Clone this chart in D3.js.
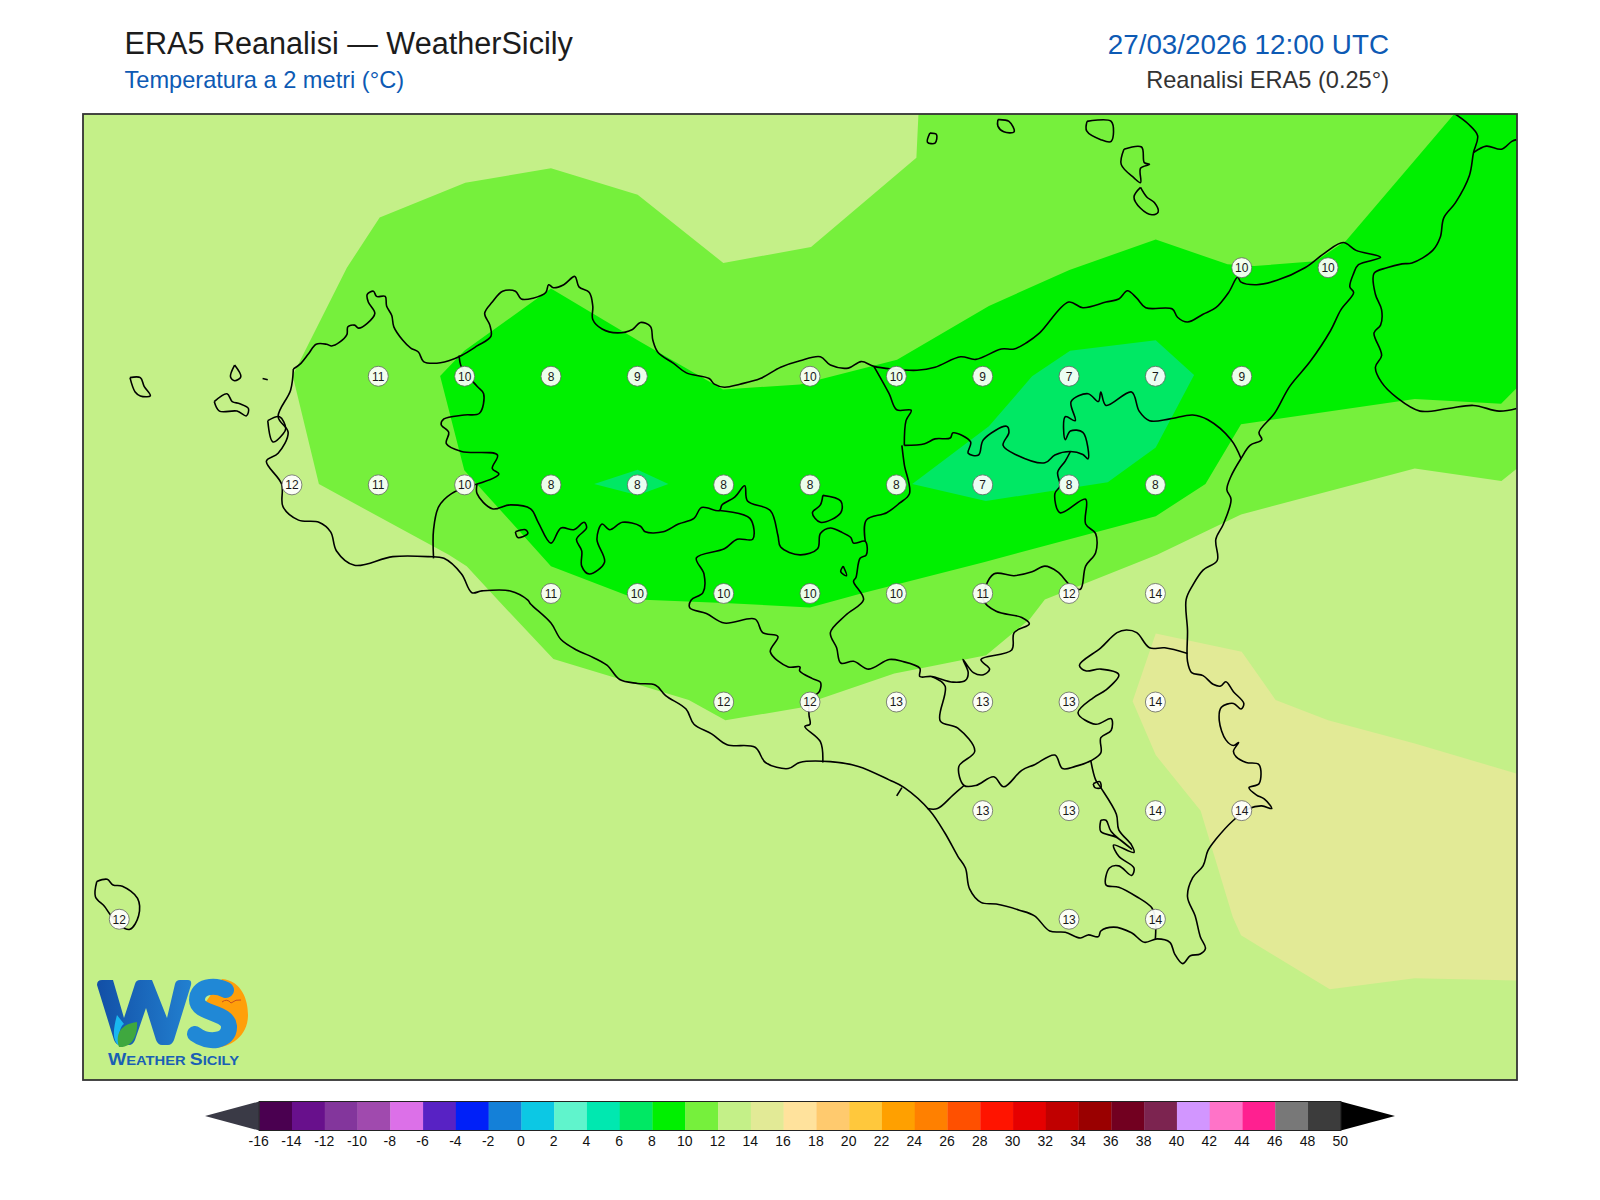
<!DOCTYPE html>
<html><head><meta charset="utf-8">
<style>html,body{margin:0;padding:0;background:#fff}svg{display:block}text{font-family:"Liberation Sans",Arial,sans-serif}</style>
<script src="https://cdn.jsdelivr.net/npm/d3@7"></script></head><body>
<script>
// ---- DATA (degrees east / north, °C) ----
const lonDomain=[11.895,16.047], latDomain=[36.378,38.602];
const stationLon=[15.25,15.5, 12.75,13,13.25,13.5,14,14.25,14.5,14.75,15,15.25, 12.5,12.75,13,13.25,13.5,13.75,14,14.25,14.5,14.75,15, 13.25,13.5,13.75,14,14.25,14.5,14.75,15, 13.75,14,14.25,14.5,14.75,15, 14.5,14.75,15,15.25, 12,14.75,15];
const stationLat=[38.25,38.25, 38,38,38,38,38,38,38,38,38,38, 37.75,37.75,37.75,37.75,37.75,37.75,37.75,37.75,37.75,37.75,37.75, 37.5,37.5,37.5,37.5,37.5,37.5,37.5,37.5, 37.25,37.25,37.25,37.25,37.25,37.25, 37,37,37,37, 36.75,36.75,36.75];
const stationVal=[10,10, 11,10,8,9,10,10,9,7,7,9, 12,11,10,8,8,8,8,8,7,8,8, 11,10,10,10,10,11,12,14, 12,12,13,13,13,14, 13,13,14,14, 12,13,14];

const ticks=d3.range(-16,51,2);
const barColors=["#4a0050","#68108c","#83369c","#a04aae","#dc70e8","#5822c4","#0020f8","#1480d8","#0cc8e4","#60f4cc","#00e8b0","#00e864","#00f000","#76f03c","#c4f088","#e2ea96","#ffe29c","#ffca6e","#ffc83c","#ffa000","#ff8000","#ff5000","#ff1400","#e60000","#c00000","#9a0000","#720020","#7c2450","#d296ff","#ff73c8","#ff2090","#787878","#3c3c3c"];

const band10=[[14.314,38.602],[16.047,38.602],[16.047,37.786],[16.002,37.757],[15.751,37.786],[15.248,37.680],[15.005,37.587],[14.680,37.484],[14.636,37.439],[14.510,37.356],[14.340,37.329],[14.244,37.314],[14.030,37.256],[13.971,37.235],[13.755,37.206],[13.649,37.253],[13.257,37.347],[13.095,37.484],[13.006,37.561],[12.954,37.587],[12.578,37.750],[12.502,38.000],[12.659,38.248],[12.754,38.364],[13.002,38.444],[13.250,38.477],[13.501,38.416],[13.749,38.259],[14.003,38.296],[14.308,38.501]];
const band8=[[15.865,38.602],[16.047,38.602],[16.047,37.972],[16.001,37.935],[15.751,37.946],[15.248,37.888],[15.145,37.750],[15.001,37.676],[14.503,37.570],[14.148,37.498],[14.000,37.466],[13.751,37.476],[13.501,37.484],[13.250,37.561],[12.999,37.782],[12.929,37.999],[12.999,38.057],[13.250,38.200],[13.501,38.081],[13.748,37.968],[13.971,37.979],[14.252,38.036],[14.518,38.160],[14.751,38.243],[15.001,38.313],[15.209,38.256],[15.286,38.252],[15.463,38.263],[15.552,38.310],[15.759,38.503]];
const band6a=[[14.296,37.750],[14.509,37.711],[14.862,37.754],[15.001,37.834],[15.112,38.001],[15.001,38.081],[14.753,38.057],[14.643,37.998],[14.518,37.883]];
const band6b=[[13.375,37.750],[13.501,37.783],[13.590,37.750],[13.501,37.724]];
const band14=[[15.001,37.406],[15.250,37.364],[15.348,37.253],[15.500,37.206],[15.751,37.153],[16.047,37.083],[16.047,36.607],[15.751,36.612],[15.505,36.587],[15.248,36.711],[15.224,36.753],[15.131,36.998],[15.001,37.126],[14.934,37.250]];

const coastSicily=[[12.504,38.015],[12.526,38.028],[12.548,38.050],[12.570,38.072],[12.600,38.072],[12.615,38.068],[12.637,38.076],[12.659,38.094],[12.662,38.112],[12.681,38.116],[12.693,38.109],[12.718,38.120],[12.740,38.143],[12.721,38.169],[12.718,38.187],[12.736,38.194],[12.745,38.182],[12.770,38.182],[12.774,38.160],[12.789,38.138],[12.795,38.112],[12.821,38.081],[12.844,38.063],[12.866,38.054],[12.881,38.032],[12.910,38.028],[12.954,38.034],[12.991,38.046],[13.036,38.068],[13.076,38.090],[13.073,38.116],[13.058,38.143],[13.080,38.169],[13.110,38.194],[13.147,38.194],[13.164,38.176],[13.198,38.178],[13.235,38.191],[13.243,38.209],[13.257,38.202],[13.287,38.209],[13.319,38.228],[13.331,38.204],[13.361,38.191],[13.371,38.160],[13.371,38.129],[13.398,38.107],[13.442,38.098],[13.486,38.106],[13.509,38.122],[13.538,38.113],[13.545,38.081],[13.560,38.053],[13.605,38.028],[13.642,38.006],[13.708,37.993],[13.723,37.980],[13.752,37.973],[13.797,37.980],[13.856,37.993],[13.915,38.019],[13.971,38.034],[14.030,38.043],[14.059,38.024],[14.111,38.017],[14.148,38.032],[14.185,38.021],[14.236,38.015],[14.310,38.012],[14.362,38.019],[14.436,38.043],[14.480,38.037],[14.554,38.061],[14.591,38.061],[14.628,38.076],[14.665,38.098],[14.749,38.169],[14.790,38.156],[14.857,38.169],[14.894,38.176],[14.919,38.195],[14.946,38.178],[14.972,38.156],[15.049,38.153],[15.064,38.134],[15.093,38.123],[15.138,38.141],[15.175,38.156],[15.212,38.191],[15.238,38.226],[15.248,38.215],[15.293,38.209],[15.352,38.219],[15.433,38.248],[15.492,38.283],[15.544,38.306],[15.581,38.288],[15.652,38.272],[15.588,38.255],[15.574,38.235],[15.563,38.204],[15.574,38.191],[15.537,38.151],[15.507,38.103],[15.448,38.032],[15.389,37.975],[15.345,37.913],[15.300,37.869],[15.308,37.852],[15.274,37.839],[15.248,37.809],[15.219,37.768],[15.207,37.737],[15.219,37.715],[15.197,37.658],[15.175,37.623],[15.179,37.574],[15.138,37.552],[15.108,37.517],[15.089,37.484],[15.093,37.413],[15.093,37.342],[15.105,37.316],[15.138,37.309],[15.167,37.289],[15.189,37.285],[15.204,37.295],[15.226,37.272],[15.256,37.245],[15.248,37.232],[15.226,37.245],[15.191,37.236],[15.185,37.205],[15.204,37.161],[15.226,37.148],[15.241,37.155],[15.226,37.135],[15.234,37.122],[15.263,37.109],[15.300,37.104],[15.300,37.060],[15.271,37.051],[15.293,37.034],[15.315,37.025],[15.337,37.003],[15.308,37.009],[15.271,37.003],[15.226,36.976],[15.175,36.932],[15.152,36.906],[15.138,36.871],[15.108,36.844],[15.093,36.800],[15.115,36.756],[15.130,36.708],[15.145,36.681],[15.130,36.668],[15.101,36.664],[15.079,36.646],[15.056,36.668],[15.042,36.695],[15.005,36.703],[14.968,36.695],[14.931,36.717],[14.879,36.730],[14.842,36.721],[14.835,36.708],[14.805,36.712],[14.783,36.705],[14.739,36.718],[14.694,36.721],[14.650,36.756],[14.606,36.769],[14.539,36.783],[14.495,36.787],[14.462,36.818],[14.450,36.866],[14.428,36.893],[14.391,36.946],[14.347,36.998],[14.273,37.051],[14.229,37.069],[14.140,37.100],[14.059,37.111],[13.970,37.109],[13.937,37.095],[13.871,37.109],[13.841,37.144],[13.760,37.150],[13.715,37.175],[13.664,37.197],[13.641,37.232],[13.582,37.263],[13.553,37.287],[13.501,37.291],[13.449,37.300],[13.412,37.333],[13.361,37.355],[13.324,37.368],[13.279,37.392],[13.250,37.430],[13.191,37.474],[13.183,37.483],[13.132,37.504],[13.050,37.504],[13.021,37.500],[12.991,37.543],[12.940,37.579],[12.895,37.583],[12.792,37.583],[12.681,37.563],[12.629,37.596],[12.612,37.640],[12.578,37.662],[12.519,37.667],[12.474,37.698],[12.470,37.750],[12.426,37.803],[12.460,37.821],[12.489,37.869],[12.460,37.905],[12.496,37.966],[12.504,38.015]];
const stagnone=[[12.430,37.896],[12.445,37.847],[12.474,37.865],[12.482,37.878],[12.464,37.905],[12.430,37.896]];
const calabria=[[15.866,38.603],[15.906,38.579],[15.933,38.552],[15.921,38.513],[15.909,38.460],[15.869,38.398],[15.835,38.363],[15.825,38.319],[15.803,38.288],[15.743,38.259],[15.714,38.257],[15.670,38.248],[15.633,38.235],[15.637,38.187],[15.655,38.151],[15.652,38.116],[15.633,38.098],[15.655,38.046],[15.637,38.019],[15.655,37.984],[15.699,37.949],[15.766,37.918],[15.847,37.924],[15.921,37.931],[15.995,37.918],[16.046,37.924]];
const calabriaBorder=[[15.921,38.513],[15.958,38.528],[16.002,38.521],[16.032,38.539],[16.046,38.543]];
const islands=[
 [[12.031,37.995],[12.061,37.995],[12.072,37.975],[12.090,37.953],[12.061,37.953],[12.046,37.962],[12.031,37.995]],
 [[12.334,38.024],[12.352,37.997],[12.334,37.988],[12.322,37.997],[12.334,38.024]],
 [[12.275,37.940],[12.312,37.958],[12.327,37.940],[12.349,37.935],[12.374,37.924],[12.368,37.907],[12.341,37.918],[12.290,37.918],[12.275,37.940]],
 [[12.415,37.993],[12.430,37.990]],
 [[11.935,36.835],[11.965,36.840],[11.982,36.827],[12.009,36.824],[12.053,36.796],[12.056,36.756],[12.031,36.725],[12.001,36.734],[11.972,36.761],[11.957,36.778],[11.931,36.800],[11.935,36.835]],
 [[14.347,38.558],[14.366,38.555],[14.362,38.535],[14.340,38.537],[14.347,38.558]],
 [[14.544,38.589],[14.576,38.585],[14.591,38.561],[14.561,38.561],[14.544,38.574],[14.544,38.589]],
 [[14.802,38.585],[14.872,38.585],[14.872,38.539],[14.842,38.543],[14.801,38.563],[14.802,38.585]],
 [[14.909,38.521],[14.960,38.526],[14.968,38.490],[14.983,38.486],[14.957,38.477],[14.957,38.444],[14.938,38.455],[14.901,38.486],[14.909,38.521]],
 [[14.957,38.433],[14.975,38.411],[14.997,38.398],[15.008,38.376],[14.990,38.370],[14.957,38.385],[14.938,38.411],[14.957,38.433]]
];
const borderTrapaniPalermo=[[12.984,38.046],[12.991,38.019],[13.036,37.975],[13.055,37.958],[13.043,37.913],[12.999,37.909],[12.940,37.900],[12.932,37.887],[12.954,37.869],[12.947,37.843],[12.991,37.825],[13.095,37.817],[13.080,37.786],[13.099,37.773],[13.036,37.750]];
const borderTrapaniAgrigento=[[13.036,37.750],[12.962,37.728],[12.925,37.698],[12.910,37.645],[12.910,37.579]];
const borderPalermoSouth=[[13.036,37.750],[13.036,37.728],[13.080,37.693],[13.132,37.702],[13.191,37.693],[13.213,37.662],[13.250,37.614],[13.279,37.649],[13.316,37.645],[13.346,37.662],[13.353,37.649],[13.324,37.623],[13.339,37.596],[13.339,37.561],[13.361,37.543],[13.405,37.570],[13.383,37.623],[13.398,37.658],[13.420,37.645],[13.457,37.662],[13.509,37.653],[13.523,37.640],[13.575,37.640],[13.619,37.658],[13.664,37.671],[13.686,37.696],[13.738,37.689],[13.745,37.702],[13.782,37.720],[13.811,37.746],[13.819,37.711],[13.885,37.689],[13.907,37.632],[13.915,37.605],[13.971,37.587],[14.022,37.601],[14.030,37.636],[14.059,37.649],[14.089,37.640],[14.118,37.627],[14.126,37.614],[14.160,37.618],[14.163,37.587],[14.145,37.579],[14.133,37.535],[14.126,37.526],[14.155,37.484],[14.103,37.448],[14.059,37.408],[14.077,37.373],[14.089,37.338],[14.126,37.342],[14.170,37.324],[14.229,37.346],[14.266,37.342],[14.318,37.326],[14.318,37.307],[14.352,37.307],[14.414,37.294],[14.450,37.298],[14.458,37.316],[14.443,37.346],[14.473,37.316],[14.502,37.311],[14.520,37.324],[14.495,37.346],[14.584,37.368],[14.591,37.408],[14.635,37.428],[14.613,37.443],[14.539,37.457],[14.502,37.483],[14.532,37.543],[14.591,37.539],[14.643,37.548],[14.680,37.561],[14.717,37.548],[14.754,37.517],[14.783,37.508],[14.798,37.561],[14.827,37.592],[14.827,37.636],[14.798,37.658],[14.798,37.715],[14.724,37.684],[14.709,37.728],[14.724,37.746],[14.717,37.777],[14.739,37.803],[14.754,37.825]];
const borderMadonie=[[14.160,37.618],[14.163,37.667],[14.222,37.684],[14.259,37.706],[14.288,37.728],[14.273,37.795],[14.266,37.839]];
const borderPalermoMessina=[[14.185,38.021],[14.229,37.958],[14.251,37.921],[14.293,37.920],[14.278,37.896],[14.273,37.839]];
const borderMessinaSouth=[[14.273,37.839],[14.332,37.843],[14.362,37.854],[14.406,37.856],[14.414,37.868],[14.465,37.847],[14.458,37.821],[14.488,37.817],[14.502,37.852],[14.569,37.883],[14.576,37.869],[14.559,37.839],[14.598,37.817],[14.680,37.799],[14.709,37.817],[14.754,37.825],[14.790,37.818],[14.805,37.808],[14.790,37.869],[14.754,37.872],[14.739,37.852],[14.739,37.905],[14.768,37.896],[14.756,37.940],[14.805,37.958],[14.835,37.940],[14.842,37.962],[14.857,37.931],[14.931,37.962],[14.953,37.918],[14.983,37.896],[15.042,37.900],[15.108,37.909],[15.152,37.898],[15.219,37.852],[15.248,37.809]];
const borderAgrigento=[[13.738,37.689],[13.826,37.671],[13.834,37.623],[13.789,37.623],[13.752,37.601],[13.671,37.580],[13.693,37.543],[13.690,37.500],[13.656,37.483],[13.652,37.465],[13.700,37.452],[13.752,37.430],[13.841,37.439],[13.863,37.408],[13.907,37.399],[13.885,37.364],[13.937,37.329],[13.971,37.329],[13.970,37.320],[14.007,37.302],[14.030,37.294],[14.027,37.272],[14.000,37.254],[13.997,37.219],[14.000,37.197],[13.985,37.192],[14.030,37.157],[14.037,37.109]];
const borderCatania=[[14.352,37.307],[14.391,37.285],[14.377,37.205],[14.428,37.188],[14.477,37.135],[14.431,37.100],[14.446,37.056],[14.480,37.056],[14.532,37.076],[14.561,37.053],[14.613,37.091],[14.650,37.104],[14.709,37.126],[14.731,37.095],[14.768,37.100],[14.813,37.113],[14.842,37.131],[14.842,37.166],[14.872,37.183],[14.872,37.210],[14.827,37.197],[14.776,37.223],[14.820,37.258],[14.857,37.276],[14.894,37.311],[14.842,37.324],[14.798,37.320],[14.780,37.333],[14.842,37.373],[14.889,37.408],[14.916,37.414],[14.946,37.408],[14.983,37.373],[15.027,37.373],[15.093,37.360]];
const borderGela=[[14.446,37.056],[14.414,37.034],[14.369,37.003],[14.340,37.003]];
const borderRagusa=[[14.813,37.113],[14.827,37.069],[14.842,37.051],[14.887,36.990],[14.894,36.954],[14.931,36.919],[14.938,36.902],[14.879,36.919],[14.894,36.893],[14.938,36.866],[14.931,36.849],[14.894,36.871],[14.867,36.866],[14.857,36.827],[14.894,36.822],[14.946,36.800],[14.990,36.774],[15.000,36.747],[15.000,36.703]];
const smallFeatures=[
 [[14.842,36.976],[14.857,36.976],[14.872,36.950],[14.931,36.910],[14.887,36.937],[14.842,36.950],[14.842,36.976]],
 [[14.820,37.060],[14.839,37.065],[14.842,37.051],[14.825,37.051],[14.820,37.060]],
 [[14.266,37.051],[14.251,37.032]],
 [[14.037,37.724],[14.089,37.711],[14.089,37.684],[14.030,37.662],[14.007,37.684],[14.030,37.702],[14.037,37.724]],
 [[14.096,37.561],[14.106,37.539],[14.089,37.548],[14.096,37.561]],
 [[13.147,37.640],[13.176,37.645],[13.183,37.636],[13.154,37.627],[13.147,37.640]]
];
const titleLeft="ERA5 Reanalisi — WeatherSicily", subLeft="Temperatura a 2 metri (°C)", titleRight="27/03/2026 12:00 UTC", subRight="Reanalisi ERA5 (0.25°)";

// ---- DRAWING ----
const svg=d3.select("body").append("svg").attr("width",1600).attr("height",1200);
const x=d3.scaleLinear().domain(lonDomain).range([83,1517]);
const y=d3.scaleLinear().domain(latDomain).range([1080,114]);
const poly=d3.line().x(d=>x(d[0])).y(d=>y(d[1]));
const curve=d3.line().x(d=>x(d[0])).y(d=>y(d[1])).curve(d3.curveCatmullRom.alpha(0.5));
const colorOf=v=>barColors[(v+16)/2];

svg.append("text").attr("x",124.5).attr("y",54).attr("font-size",30.6).attr("fill","#1c1c1c").text(titleLeft);
svg.append("text").attr("x",124.5).attr("y",88).attr("font-size",23.6).attr("fill","#0d5ab4").text(subLeft);
svg.append("text").attr("x",1389).attr("y",54).attr("text-anchor","end").attr("font-size",27.8).attr("fill","#0d5ab4").text(titleRight);
svg.append("text").attr("x",1389).attr("y",88).attr("text-anchor","end").attr("font-size",23.6).attr("fill","#333").text(subRight);

svg.append("clipPath").attr("id","map").append("rect").attr("x",83).attr("y",114).attr("width",1434).attr("height",966);
const map=svg.append("g").attr("clip-path","url(#map)");
map.append("rect").attr("x",83).attr("y",114).attr("width",1434).attr("height",966).attr("fill",colorOf(12));
[[band14,14],[band10,10],[band8,8],[band6a,6],[band6b,6]].forEach(([p,v])=>{
  map.append("path").attr("d",poly(p)+"Z").attr("fill",colorOf(v));
});
const lines=[coastSicily,stagnone,calabria,calabriaBorder,...islands,borderTrapaniPalermo,borderTrapaniAgrigento,borderPalermoSouth,borderMadonie,borderPalermoMessina,borderMessinaSouth,borderAgrigento,borderCatania,borderGela,borderRagusa,...smallFeatures];
map.selectAll("path.l").data(lines).join("path").attr("class","l").attr("d",curve).attr("fill","none").attr("stroke","#000").attr("stroke-width",1.6).attr("stroke-linejoin","round");

// logo
const defs=svg.append("defs");
const g1=defs.append("linearGradient").attr("id","wgrad").attr("x1",0).attr("x2",1).attr("y1",0).attr("y2",0);
g1.append("stop").attr("offset",0).attr("stop-color","#124fa6");
g1.append("stop").attr("offset",1).attr("stop-color","#2280d0");
const logo=svg.append("g");
logo.append("path").attr("d","M222 979C242 981 248 1000 248 1015C248 1035 232 1048 212 1048C220 1040 235 1030 222 1015L205 1003Z").attr("fill","#ff9f0a");
logo.append("path").attr("d","M97 985Q97 980 102 980L113 980L124 1018L135 984Q136 980 140 980L152 980L167 1018L175 984Q176 980 180 980L188 980Q192 980 191 985L174 1040Q172 1045 168 1045L162 1045Q158 1045 156 1040L146 1008L135 1040Q133 1045 129 1045L120 1045Q116 1045 114 1040Z").attr("fill","url(#wgrad)");
logo.append("path").attr("d","M226 990C214 984 197 986 197 1000C197 1014 228 1012 229 1026C230 1042 208 1044 195 1034").attr("fill","none").attr("stroke","#2088d6").attr("stroke-width",16).attr("stroke-linecap","round");
logo.append("path").attr("d","M117 1015C113 1030 112 1040 119 1046C118 1036 120 1026 124 1024Z").attr("fill","#19b8f0");
logo.append("path").attr("d","M137 1022C120 1024 115 1035 119 1047C132 1048 138 1035 137 1022Z").attr("fill","#3fa83f");
logo.append("path").attr("d","M222 1002Q227 998 231 1003Q236 999 241 1000").attr("fill","none").attr("stroke","#c8501e").attr("stroke-width",1);
logo.append("text").attr("x",108).attr("y",1065).attr("font-weight","bold").attr("font-size",13).attr("fill","#1a5fb4").attr("textLength",131).attr("lengthAdjust","spacingAndGlyphs")
 .html('<tspan font-size="17">W</tspan>EATHER <tspan font-size="17">S</tspan>ICILY');

// stations
const st=map.append("g").selectAll("g").data(stationVal).join("g").attr("transform",(d,i)=>`translate(${x(stationLon[i])},${y(stationLat[i])+0.8})`);
st.append("circle").attr("r",10).attr("fill","#fff").attr("fill-opacity",.92).attr("stroke","#666").attr("stroke-width",.8);
st.append("text").attr("text-anchor","middle").attr("y",4.3).attr("font-size",12).attr("fill","#1a1a1a").text(d=>d);

// frame
svg.append("rect").attr("x",83).attr("y",114).attr("width",1434).attr("height",966).attr("fill","none").attr("stroke","#333").attr("stroke-width",1.8);

// colour bar
const bar=d3.scaleLinear().domain([-16,50]).range([259.2,1340.8]);
const by0=1101.5,by1=1130.5;
svg.append("path").attr("d",`M${bar(-16)} ${by0}L205 ${(by0+by1)/2}L${bar(-16)} ${by1}Z`).attr("fill","#3a3a46");
svg.append("path").attr("d",`M${bar(50)} ${by0}L1395 ${(by0+by1)/2}L${bar(50)} ${by1}Z`).attr("fill","#000");
svg.selectAll("rect.c").data(barColors).join("rect").attr("class","c").attr("x",(d,i)=>bar(-16+2*i)).attr("y",by0).attr("width",bar(2)-bar(0)+.3).attr("height",by1-by0).attr("fill",d=>d);
svg.append("rect").attr("x",bar(-16)).attr("y",by0).attr("width",bar(50)-bar(-16)).attr("height",by1-by0).attr("fill","none").attr("stroke","#222").attr("stroke-width",1);
svg.selectAll("text.t").data(ticks).join("text").attr("class","t").attr("x",d=>bar(d)-.5).attr("y",1146).attr("text-anchor","middle").attr("font-size",14).attr("fill","#111").text(d=>d);
</script></body></html>
